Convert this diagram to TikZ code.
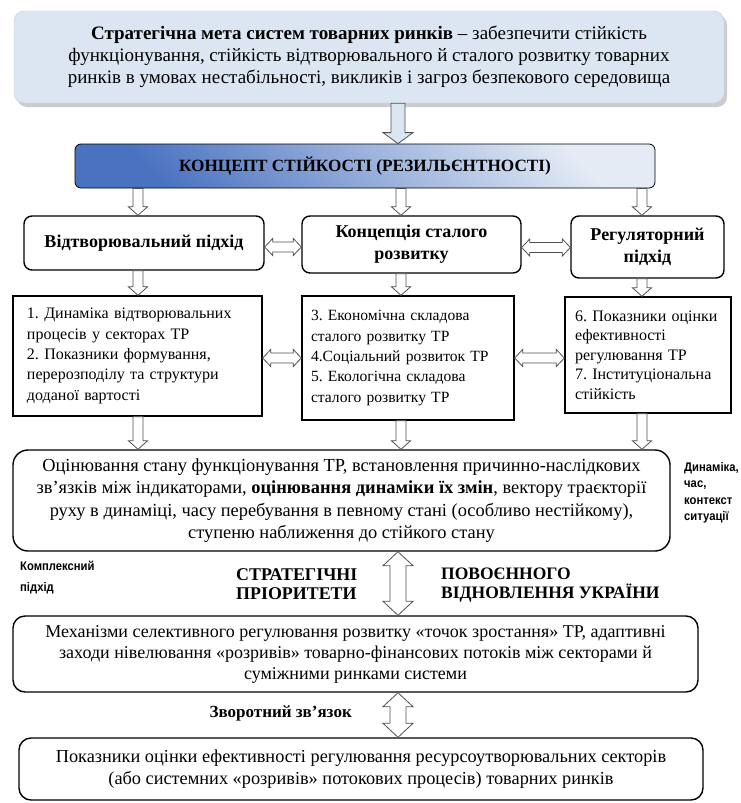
\documentclass[tikz,border=0pt]{standalone}
\usepackage{fontspec}
\setmainfont{Liberation Serif}
\newfontfamily\narrowsans[FakeStretch=0.9]{Liberation Sans}
\usetikzlibrary{positioning,calc,shadows}
\frenchspacing

\definecolor{goalblue}{HTML}{DCE6F2}
\definecolor{conceptdark}{HTML}{4A72C0}
\definecolor{conceptlight}{HTML}{E4EBF5}
\definecolor{arrowgray}{HTML}{505050}

\tikzset{
  hollow/.style={draw=arrowgray, fill=white, line width=0.8pt, line join=miter},
  roundbox/.style={draw, line width=1.4pt, rounded corners=8pt, align=center, inner sep=3pt},
  listbox/.style={draw, line width=1.4pt, align=left, inner sep=0pt},
  sidelabel/.style={align=left, inner sep=0pt, anchor=north west},
}

\newcommand{\arrshaft}{5pt}
\newcommand{\arrhead}{10pt}
\newcommand{\arrlen}{9pt}
\newcommand{\arrsize}[3]{\renewcommand{\arrshaft}{#1}\renewcommand{\arrhead}{#2}\renewcommand{\arrlen}{#3}}

% hollow arrow pointing down, #2 start, #3 end
\newcommand{\hollowdown}[3][]{%
  \draw[hollow,#1] let \p1=(#2), \p2=(#3) in
    (\x1-\arrshaft,\y1) -- (\x1-\arrshaft,\y2+\arrlen) -- (\x1-\arrhead,\y2+\arrlen)
    -- (\x1,\y2) -- (\x1+\arrhead,\y2+\arrlen) -- (\x1+\arrshaft,\y2+\arrlen)
    -- (\x1+\arrshaft,\y1) -- cycle;}

% hollow vertical double arrow, #1 top, #2 bottom
\newcommand{\hollowupdown}[2]{%
  \draw[hollow] let \p1=(#1), \p2=(#2) in
    (\x1,\y1) -- (\x1+\arrhead,\y1-\arrlen) -- (\x1+\arrshaft,\y1-\arrlen)
    -- (\x1+\arrshaft,\y2+\arrlen) -- (\x1+\arrhead,\y2+\arrlen) -- (\x1,\y2)
    -- (\x1-\arrhead,\y2+\arrlen) -- (\x1-\arrshaft,\y2+\arrlen)
    -- (\x1-\arrshaft,\y1-\arrlen) -- (\x1-\arrhead,\y1-\arrlen) -- cycle;}

% hollow horizontal double arrow, #1 left, #2 right
\newcommand{\hollowleftright}[2]{%
  \draw[hollow] let \p1=(#1), \p2=(#2) in
    (\x1,\y1) -- (\x1+\arrlen,\y1+\arrhead) -- (\x1+\arrlen,\y1+\arrshaft)
    -- (\x2-\arrlen,\y1+\arrshaft) -- (\x2-\arrlen,\y1+\arrhead) -- (\x2,\y1)
    -- (\x2-\arrlen,\y1-\arrhead) -- (\x2-\arrlen,\y1-\arrshaft)
    -- (\x1+\arrlen,\y1-\arrshaft) -- (\x1+\arrlen,\y1-\arrhead) -- cycle;}

\begin{document}
\begin{tikzpicture}[x=1pt,y=-1pt]
\useasboundingbox (0,0) rectangle (740,803);

% Define the arrow columns
\coordinate (colA) at (138,0);
\coordinate (colB) at (401,0);
\coordinate (colC) at (642,0);
\coordinate (colM) at (398,0);

% Goal and concept
\node[draw=goalblue!75!gray, fill=goalblue, rounded corners=10pt,
  drop shadow={shadow xshift=3pt, shadow yshift=-4pt, fill=black!40},
  minimum width=710pt, minimum height=92pt, align=center,
  font=\fontsize{19}{22}\selectfont] (goal) at (369,57)
  {\textbf{Стратегічна мета систем товарних ринків} – забезпечити стійкість\\
   функціонування, стійкість відтворювального й сталого розвитку товарних\\
   ринків в умовах нестабільності, викликів і загроз безпекового середовища};

\node[draw, line width=0.8pt, rounded corners=6pt, top color=conceptlight,
  bottom color=conceptdark, shading angle=-45, minimum width=580pt,
  minimum height=44pt, font=\bfseries\fontsize{17.2}{20}\selectfont] (concept) at (365,166)
  {КОНЦЕПТ СТІЙКОСТІ (РЕЗИЛЬЄНТНОСТІ)};

% Approaches
\node[roundbox, minimum width=240pt, minimum height=54pt,
  font=\bfseries\fontsize{18}{22}\selectfont] (rowA) at (144,243) {Відтворювальний підхід};
\node[roundbox, minimum width=219pt, minimum height=57pt,
  font=\bfseries\fontsize{18}{22}\selectfont] (rowB) at (411.5,244.5) {Концепція сталого\\розвитку};
\node[roundbox, minimum width=153pt, minimum height=62pt,
  font=\bfseries\fontsize{18}{22}\selectfont] (rowC) at (647.5,247) {Регуляторний\\підхід};

% Indicators
\node[listbox, minimum width=249pt, minimum height=120pt, text width=221pt,
  font=\fontsize{16}{20.3}\selectfont] (listA) at (137.5,356)
  {1. Динаміка відтворювальних\\процесів у секторах ТР\\2. Показники формування,\\перерозподілу та структури\\доданої вартості};
\node[listbox, minimum width=212pt, minimum height=124pt, text width=194pt,
  font=\fontsize{15.6}{20.3}\selectfont] (listB) at (408,358)
  {3. Економічна складова\\сталого розвитку ТР\\4.Соціальний розвиток ТР\\5. Екологічна складова\\сталого розвитку ТР};
\node[listbox, minimum width=166pt, minimum height=116pt, text width=146pt,
  font=\fontsize{16}{19.4}\selectfont] (listC) at (648,355)
  {6. Показники оцінки\\ефективності\\регулювання ТР\\7. Інституціональна\\стійкість};

% Evaluation, mechanisms, feedback
\node[roundbox, rounded corners=15pt, minimum width=657pt, minimum height=101pt,
  font=\fontsize{18.4}{22.3}\selectfont] (eval) at (341.5,500.5)
  {Оцінювання стану функціонування ТР, встановлення причинно-наслідкових\\
   зв’язків між індикаторами, \textbf{оцінювання динаміки їх змін}, вектору траєкторії\\
   руху в динаміці, часу перебування в певному стані (особливо нестійкому),\\
   ступеню наближення до стійкого стану};
\node[roundbox, rounded corners=12pt, minimum width=685pt, minimum height=76pt,
  font=\fontsize{18}{21}\selectfont] (mech) at (355.5,654)
  {Механізми селективного регулювання розвитку «точок зростання» ТР, адаптивні\\
   заходи нівелювання «розривів» товарно-фінансових потоків між секторами й\\
   суміжними ринками системи};
\node[roundbox, rounded corners=12pt, minimum width=684pt, minimum height=62pt,
  font=\fontsize{18.3}{22}\selectfont] (result) at (361,769)
  {Показники оцінки ефективності регулювання ресурсоутворювальних секторів\\
   (або системних «розривів» потокових процесів) товарних ринків};

% Side labels
\node[sidelabel, font=\narrowsans\bfseries\fontsize{12.5}{16.5}\selectfont] (dyn) at (684,462)
  {Динаміка,\\час,\\контекст\\ситуації};
\node[sidelabel, font=\narrowsans\bfseries\fontsize{12.5}{20.7}\selectfont] (complex) at (20,561)
  {Комплексний\\підхід};
\node[sidelabel, font=\bfseries\fontsize{17.9}{19}\selectfont] (prior) at (236,568)
  {СТРАТЕГІЧНІ\\ПРІОРИТЕТИ};
\node[sidelabel, font=\bfseries\fontsize{17.5}{19}\selectfont] (recov) at (441,568)
  {ПОВОЄННОГО\\ВІДНОВЛЕННЯ УКРАЇНИ};
\node[inner sep=0pt, anchor=east, font=\bfseries\fontsize{17}{18}\selectfont] (feedback) at (352,713)
  {Зворотний зв’язок};

% Draw the arrows
\arrsize{7pt}{15pt}{11pt}
\hollowdown[fill=goalblue]{colM |- goal.south}{concept.north}
\arrsize{5pt}{9.5pt}{8.5pt}
\hollowdown{colA |- concept.south}{rowA.north}
\hollowdown{colB |- concept.south}{rowB.north}
\hollowdown{colC |- concept.south}{rowC.north}
\hollowdown{colA |- rowA.south}{listA.north}
\hollowdown{colB |- rowB.south}{listB.north}
\hollowdown{colC |- rowC.south}{listC.north}
\hollowdown{colA |- listA.south}{eval.north}
\hollowdown{colB |- listB.south}{eval.north}
\hollowdown{colC |- listC.south}{eval.north}
\arrsize{5pt}{8.5pt}{8pt}
\hollowleftright{[yshift=-4pt]rowA.east}{rowB.west}
\hollowleftright{[yshift=-3pt]rowB.east}{rowC.west}
\hollowleftright{listA.east |- listB.west}{listB.west}
\hollowleftright{listB.east}{listC.west}
\arrsize{8pt}{15pt}{14pt}
\hollowupdown{colM |- eval.south}{mech.north}
\hollowupdown{colM |- mech.south}{result.north}
\end{tikzpicture}
\end{document}
